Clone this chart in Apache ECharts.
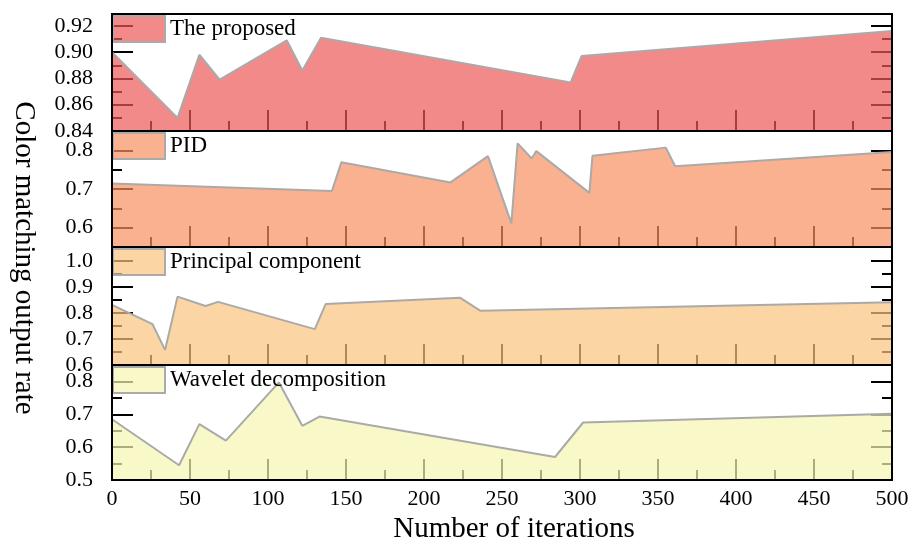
<!DOCTYPE html>
<html>
<head>
<meta charset="utf-8">
<script src="https://cdn.jsdelivr.net/npm/echarts@6/dist/echarts.min.js"></script>
<style>
    html, body { margin: 0; padding: 0; background: #fff; }
    #chart { width: 917px; height: 545px; }
</style>
</head>
<body>
<div id="chart"></div>
<script>
// series names (one panel each)
const names = ['The proposed', 'PID', 'Principal component', 'Wavelet decomposition'];

// number of iterations (x) and color matching output rate (y)
const proposedX = [0, 42, 56, 69, 112, 122, 134, 294, 301, 500];
const proposedY = [0.900, 0.850, 0.898, 0.879, 0.909, 0.886, 0.911, 0.877, 0.897, 0.916];

const pidX = [0, 141, 147, 217, 241, 256, 260, 269, 272, 306, 308, 355, 361, 500];
const pidY = [0.714, 0.695, 0.769, 0.717, 0.785, 0.611, 0.818, 0.779, 0.798, 0.690, 0.786, 0.807, 0.759, 0.796];

const pcaX = [0, 26, 34, 42, 60, 68, 130, 137, 223, 236, 500];
const pcaY = [0.831, 0.757, 0.658, 0.863, 0.827, 0.843, 0.738, 0.835, 0.859, 0.809, 0.841];

const waveletX = [0, 43, 56, 73, 107, 122, 133, 284, 302, 500];
const waveletY = [0.685, 0.545, 0.670, 0.620, 0.797, 0.665, 0.693, 0.570, 0.675, 0.702];

// y ticks / labels per panel
const majorTicks = [
    [0.84, 0.86, 0.88, 0.90, 0.92],
    [0.6, 0.7, 0.8],
    [0.6, 0.7, 0.8, 0.9, 1.0],
    [0.5, 0.6, 0.7, 0.8]
];
const minorTicks = [
    [0.85, 0.87, 0.89, 0.91],
    [0.55, 0.65, 0.75, 0.85],
    [0.65, 0.75, 0.85, 0.95],
    [0.55, 0.65, 0.75]
];
const yRange = [[0.84, 0.929], [0.55, 0.85], [0.6, 1.054], [0.5, 0.85]];
const labelDigits = [2, 1, 1, 1];

const seriesX = [proposedX, pidX, pcaX, waveletX];
const seriesY = [proposedY, pidY, pcaY, waveletY];

// panel layout
const gridTop = [14, 131, 247, 365];
const gridHeight = [117, 116, 118, 117];

const fills = ['rgb(236,88,88)', 'rgb(246,144,95)', 'rgb(249,195,126)', 'rgb(247,245,178)'];
const legendFills = ['rgba(236,88,88,0.7)', 'rgba(246,144,95,0.7)', 'rgba(249,195,126,0.7)', 'rgba(247,245,178,0.7)'];
const font = '"Liberation Serif", "Times New Roman", serif';

const grids = [], xAxes = [], yAxes = [], series = [], legends = [];

for (let i = 0; i < 4; i++) {
    grids.push({
        left: 112, width: 780, top: gridTop[i], height: gridHeight[i],
        show: true, backgroundColor: 'transparent', borderColor: '#000', borderWidth: 2, z: 10
    });

    xAxes.push({
        type: 'value', gridIndex: i, min: 0, max: 500, interval: 50,
        axisLine: { show: false },
        axisTick: { inside: true, length: 21, lineStyle: { color: '#000', width: 2 } },
        minorTick: { show: true, splitNumber: 2, length: 10, lineStyle: { color: '#000', width: 2 } },
        splitLine: { show: false },
        axisLabel: { show: i === 3, margin: 8, color: '#000', fontSize: 22, fontFamily: font },
        name: i === 3 ? 'Number of iterations' : '',
        nameLocation: 'middle', nameGap: 35,
        nameTextStyle: { fontSize: 29, fontFamily: font, color: '#000', padding: [0, 0, 0, 24] }
    });

    // left/right, major/minor tick axes
    ['left', 'right'].forEach(pos => {
        [true, false].forEach(major => {
            yAxes.push({
                type: 'value', gridIndex: i, position: pos,
                min: yRange[i][0], max: yRange[i][1],
                axisLine: { show: false },
                splitLine: { show: false },
                axisTick: {
                    inside: true, length: major ? 21 : 10,
                    customValues: major ? majorTicks[i] : minorTicks[i],
                    lineStyle: { color: '#000', width: 2 }
                },
                axisLabel: {
                    show: major && pos === 'left',
                    customValues: majorTicks[i],
                    formatter: v => v.toFixed(labelDigits[i]),
                    margin: 19, color: '#000', fontSize: 22, fontFamily: font
                }
            });
        });
    });

    series.push({
        name: names[i], type: 'line',
        xAxisIndex: i, yAxisIndex: i * 4,
        data: seriesX[i].map((x, k) => [x, seriesY[i][k]]),
        symbol: 'none', showSymbol: false,
        lineStyle: { color: '#aaaaaa', width: 2 },
        itemStyle: { color: fills[i] },
        areaStyle: { color: fills[i], opacity: 0.7, origin: 'start' },
        silent: true
    });

    legends.push({
        data: [names[i]], left: 112, top: gridTop[i] + 1, padding: 0,
        itemWidth: 52, itemHeight: 26, icon: 'rect', selectedMode: false,
        itemStyle: { color: legendFills[i], borderColor: '#aaaaaa', borderWidth: 2 },
        textStyle: { fontSize: 23, fontFamily: font, color: '#000' }
    });
}

const myChart = echarts.init(document.getElementById('chart'), null, { renderer: 'canvas' });
myChart.setOption({
    animation: false,
    grid: grids,
    xAxis: xAxes,
    yAxis: yAxes,
    legend: legends,
    series: series,
    graphic: [{
        type: 'text', x: 24, y: 258, rotation: -Math.PI / 2,
        style: {
            text: 'Color matching output rate',
            font: '29px "Liberation Serif", serif',
            fill: '#000',
            align: 'center', verticalAlign: 'middle',
            textAlign: 'center', textVerticalAlign: 'middle'
        }
    }]
});
</script>
</body>
</html>
